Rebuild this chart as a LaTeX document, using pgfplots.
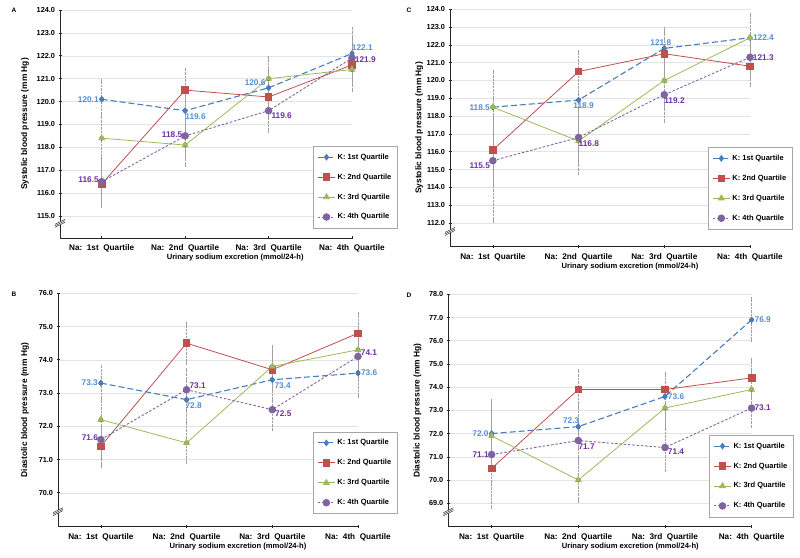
\documentclass[border=0pt]{standalone}
\usepackage{pgfplots}
\usepackage{pgfplotstable}
\pgfplotsset{compat=1.18}
\usepackage{fontspec}
\setmainfont{Liberation Sans}

\definecolor{cKa}{HTML}{4A7EBB}
\definecolor{cKb}{HTML}{C0504D}
\definecolor{cKc}{HTML}{9BBB59}
\definecolor{cKd}{HTML}{8064A2}
\definecolor{lKa}{HTML}{558ED5}
\definecolor{lKd}{HTML}{7030A0}
\definecolor{errc}{HTML}{A0A0A0}
\definecolor{gridc}{HTML}{E3E3E3}

\newcommand{\bpfont}[1]{\bfseries\fontsize{#1}{#1}\selectfont}

% columns: x, mean, half CI, anchor angle of the value label
% ---- panel A ----
\pgfplotstableread{
x y e a
0 120.1 0.8 0
1 119.6 0.9 150
2 120.6 0.9 340
3 122.1 1.1 210
}\tAa
\pgfplotstableread{
x y e
0 116.4 1.0
1 120.5 0.9
2 120.2 0.9
3 121.6 0.9
}\tAb
\pgfplotstableread{
x y e
0 118.4 1.0
1 118.1 0.9
2 121.0 0.9
3 121.4 0.9
}\tAc
\pgfplotstableread{
x y e a
0 116.5 1.0 350
1 118.5 0.9 355
2 119.6 0.9 160
3 121.9 0.9 175
}\tAd

% ---- panel C ----
\pgfplotstableread{
x y e a
0 118.5 2.0 0
1 118.9 1.8 130
2 121.8 1.1 300
3 122.4 1.3 180
}\tCa
\pgfplotstableread{
x y e
0 116.1 2.0
1 120.5 1.1
2 121.5 1.2
3 120.8 1.1
}\tCb
\pgfplotstableread{
x y e
0 118.5 2.0
1 116.6 1.8
2 120.0 1.5
3 122.4 1.3
}\tCc
\pgfplotstableread{
x y e a
0 115.5 3.4 20
1 116.8 1.5 150
2 119.2 1.5 150
3 121.3 1.2 180
}\tCd

% ---- panel B ----
\pgfplotstableread{
x y e a
0 73.3 0.5 0
1 72.8 0.6 140
2 73.4 0.6 150
3 73.6 0.7 180
}\tBa
\pgfplotstableread{
x y e
0 71.4 0.6
1 74.5 0.6
2 73.7 0.6
3 74.8 0.6
}\tBb
\pgfplotstableread{
x y e
0 72.2 0.6
1 71.5 0.6
2 73.8 0.6
3 74.3 0.6
}\tBc
\pgfplotstableread{
x y e a
0 71.6 0.6 350
1 73.1 0.6 200
2 72.5 0.6 160
3 74.1 0.7 200
}\tBd

% ---- panel D ----
\pgfplotstableread{
x y e a
0 72.0 1.3 0
1 72.3 0.9 320
2 73.6 1.0 180
3 76.9 0.9 180
}\tDa
\pgfplotstableread{
x y e
0 70.5 1.7
1 73.9 0.8
2 73.9 0.7
3 74.4 0.8
}\tDb
\pgfplotstableread{
x y e
0 71.9 1.5
1 70.0 0.9
2 73.1 0.9
3 73.9 0.8
}\tDc
\pgfplotstableread{
x y e a
0 71.1 1.3 0
1 71.7 0.9 145
2 71.4 1.0 160
3 73.1 0.8 180
}\tDd

\pgfplotsset{
  bp/.style={
    scale only axis, anchor=south west, clip=false,
    axis lines=left, axis line style={-, black!85, line width=0.8pt},
    xmin=-0.5, xmax=3,
    xtick={0,1,2,3},
    xticklabels={Na:~~1st~~Quartile, Na:~~2nd~~Quartile, Na:~~3rd~~Quartile, Na:~~4th~~Quartile},
    tick align=center, major tick length=3pt, tick style={black!85, line width=0.6pt},
    ymajorgrids, grid style={gridc, line width=0.5pt},
    /pgf/number format/assume math mode=true,
    yticklabel style={font=\bpfont{7.3}, /pgf/number format/.cd, fixed, fixed zerofill, precision=1},
    xticklabel style={font=\bpfont{8.2}, anchor=center, yshift=-9pt},
    xlabel={Urinary sodium excretion (mmol/24-h)},
    xlabel style={font=\bpfont{7.6}, at={(axis description cs:0.6,0)}, anchor=center, yshift=-19.5pt},
    ylabel style={font=\bpfont{8.4}, anchor=center},
    legend cell align=left,
    legend style={anchor=north west, draw=black!35, line width=0.5pt, fill=white,
      font=\bpfont{7.5}, row sep=9pt, inner xsep=4pt, inner ysep=5.5pt},
  },
  err/.style={only marks, mark=none, forget plot,
    error bars/.cd, y dir=both, y explicit,
    error bar style={errc, densely dotted, line width=0.7pt},
    error mark options={errc, mark size=1.6pt, solid, line width=0.5pt}},
  ka/.style={cKa, line width=1.1pt, dash pattern=on 6pt off 3pt, mark=diamond*, mark size=2.6pt, mark options={solid, fill=cKa}},
  kb/.style={cKb, line width=0.8pt, mark=square*, mark size=3.3pt, mark options={solid, fill=cKb}},
  kc/.style={cKc, line width=0.8pt, mark=triangle*, mark size=3.3pt, mark options={solid, fill=cKc}},
  kd/.style={cKd, line width=0.9pt, dash pattern=on 2.5pt off 1.8pt, mark=*, mark size=3.3pt, mark options={solid, fill=cKd}},
  lbl/.style={forget plot, point meta=explicit symbolic,
    visualization depends on={y\as\rawy},
    nodes near coords={\pgfmathprintnumber[fixed, fixed zerofill, precision=1]{\rawy}},
    every node near coord/.append style={anchor=\pgfplotspointmeta, font=\bpfont{8.3}, text=#1, inner sep=2.5pt}},
}

\newcommand{\brk}{%
  \fill[white] (axis description cs:0,0.06) ++(-5pt,-3pt) -- ++(10pt,5pt) -- ++(0pt,3pt) -- ++(-10pt,-5pt) -- cycle;
  \draw[black!85, line width=0.5pt] (axis description cs:0,0.06) ++(-5pt,-3pt) -- ++(10pt,5pt);
  \draw[black!85, line width=0.5pt] (axis description cs:0,0.06) ++(-5pt,-1.5pt) -- ++(10pt,5pt);
  \draw[black!85, line width=0.5pt] (axis description cs:0,0.06) ++(-5pt,0pt) -- ++(10pt,5pt);
}
\newcommand{\legs}{%
  \addlegendimage{ka}\addlegendentry{K: 1st Quartile}
  \addlegendimage{kb}\addlegendentry{K: 2nd Quartile}
  \addlegendimage{kc}\addlegendentry{K: 3rd Quartile}
  \addlegendimage{kd}\addlegendentry{K: 4th Quartile}
}

\begin{document}
\begin{tikzpicture}
\useasboundingbox (0,0) rectangle (800pt,557pt);

\node[font=\bpfont{6.5}, anchor=west] at (8pt,547pt) {A};
\node[font=\bpfont{6.5}, anchor=west] at (403pt,547pt) {C};
\node[font=\bpfont{6.5}, anchor=west] at (8pt,263pt) {B};
\node[font=\bpfont{6.5}, anchor=west] at (403pt,262pt) {D};

% Panel A
\begin{axis}[bp, at={(60pt,319pt)}, width=292pt, height=228pt,
  ymin=114.04, ymax=124, ytick={115,116,...,124},
  ylabel={Systolic blood pressure (mm Hg)},
  ylabel style={at={(axis description cs:-0.12,0.5)}},
  legend style={at={(0.867,0.4035)}}]
\legs
\addplot[err] table[x=x,y=y,y error=e] {\tAa};
\addplot[err] table[x=x,y=y,y error=e] {\tAb};
\addplot[err] table[x=x,y=y,y error=e] {\tAc};
\addplot[err] table[x=x,y=y,y error=e] {\tAd};
\addplot[ka, lbl=lKa] table[x=x,y=y,meta=a] {\tAa};
\addplot[kb, forget plot] table[x=x,y=y] {\tAb};
\addplot[kc, forget plot] table[x=x,y=y] {\tAc};
\addplot[kd, lbl=lKd] table[x=x,y=y,meta=a] {\tAd};
\brk
\end{axis}

% Panel C
\begin{axis}[bp, at={(450pt,310.3pt)}, width=300pt, height=237.5pt,
  ymin=110.67, ymax=124, ytick={112,113,...,124},
  ylabel={Systolic blood pressure (mm Hg)},
  ylabel style={at={(axis description cs:-0.103,0.5)}},
  legend style={at={(0.86,0.419)}}]
\legs
\addplot[err] table[x=x,y=y,y error=e] {\tCa};
\addplot[err] table[x=x,y=y,y error=e] {\tCb};
\addplot[err] table[x=x,y=y,y error=e] {\tCc};
\addplot[err] table[x=x,y=y,y error=e] {\tCd};
\addplot[ka, lbl=lKa] table[x=x,y=y,meta=a] {\tCa};
\addplot[kb, forget plot] table[x=x,y=y] {\tCb};
\addplot[kc, forget plot] table[x=x,y=y] {\tCc};
\addplot[kd, lbl=lKd] table[x=x,y=y,meta=a] {\tCd};
\brk
\end{axis}

% Panel B
\begin{axis}[bp, at={(58pt,30.3pt)}, width=300pt, height=233.4pt,
  ymin=68.98, ymax=76, ytick={70,71,...,76},
  ylabel={Diastolic blood pressure (mm Hg)},
  ylabel style={at={(axis description cs:-0.11,0.5)}},
  legend style={at={(0.85,0.407)}}]
\legs
\addplot[err] table[x=x,y=y,y error=e] {\tBa};
\addplot[err] table[x=x,y=y,y error=e] {\tBb};
\addplot[err] table[x=x,y=y,y error=e] {\tBc};
\addplot[err] table[x=x,y=y,y error=e] {\tBd};
\addplot[ka, lbl=lKa] table[x=x,y=y,meta=a] {\tBa};
\addplot[kb, forget plot] table[x=x,y=y] {\tBb};
\addplot[kc, forget plot] table[x=x,y=y] {\tBc};
\addplot[kd, lbl=lKd] table[x=x,y=y,meta=a] {\tBd};
\brk
\end{axis}

% Panel D
\begin{axis}[bp, at={(448.3pt,30.3pt)}, width=303.3pt, height=232.4pt,
  ymin=67.99, ymax=78, ytick={69,70,...,78},
  ylabel={Diastolic blood pressure (mm Hg)},
  ylabel style={at={(axis description cs:-0.102,0.5)}},
  legend style={at={(0.86,0.395)}}]
\legs
\addplot[err] table[x=x,y=y,y error=e] {\tDa};
\addplot[err] table[x=x,y=y,y error=e] {\tDb};
\addplot[err] table[x=x,y=y,y error=e] {\tDc};
\addplot[err] table[x=x,y=y,y error=e] {\tDd};
\addplot[ka, lbl=lKa] table[x=x,y=y,meta=a] {\tDa};
\addplot[kb, forget plot] table[x=x,y=y] {\tDb};
\addplot[kc, forget plot] table[x=x,y=y] {\tDc};
\addplot[kd, lbl=lKd] table[x=x,y=y,meta=a] {\tDd};
\brk
\end{axis}
\end{tikzpicture}
\end{document}
